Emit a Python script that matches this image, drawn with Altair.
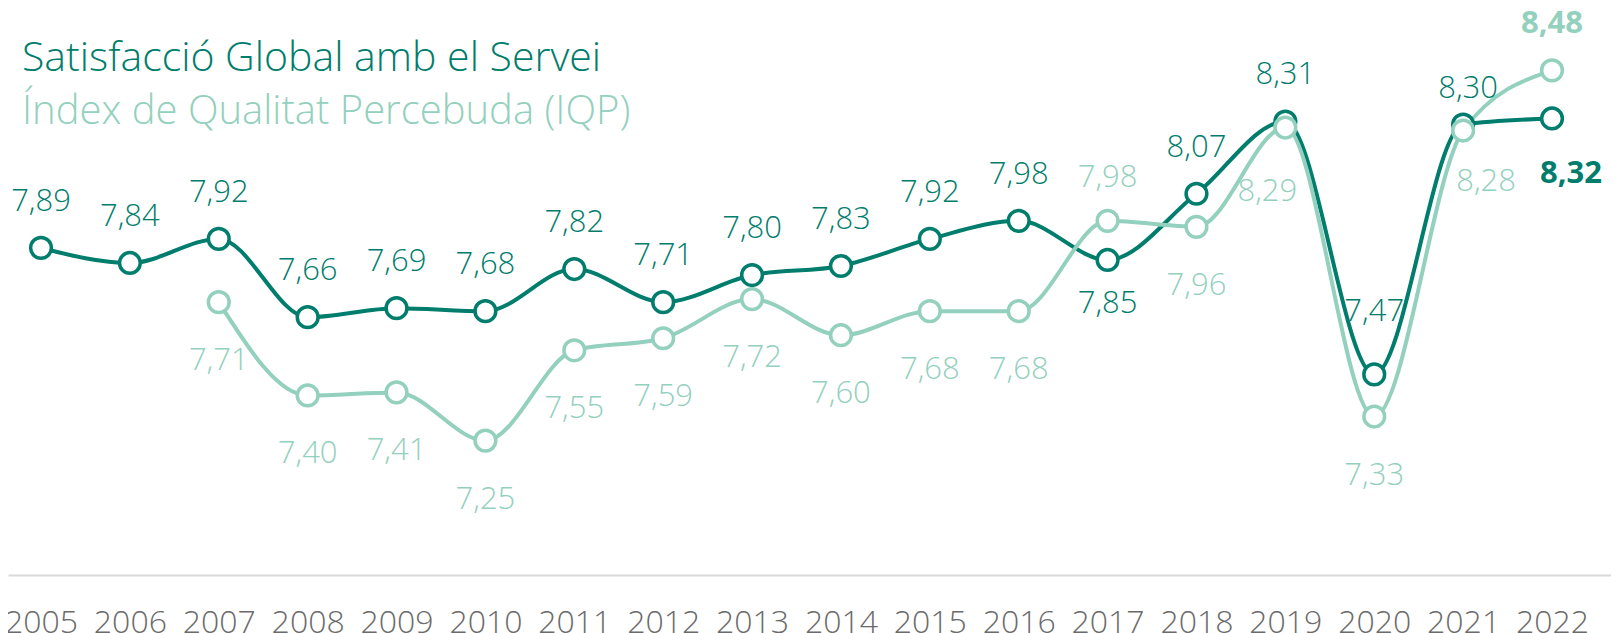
import altair as alt
import pandas as pd

# ---- data ----
years = list(range(2005, 2023))
satisfaccio = [7.89, 7.84, 7.92, 7.66, 7.69, 7.68, 7.82, 7.71, 7.80, 7.83,
               7.92, 7.98, 7.85, 8.07, 8.31, 7.47, 8.30, 8.32]
iqp = [None, None, 7.71, 7.40, 7.41, 7.25, 7.55, 7.59, 7.72, 7.60,
       7.68, 7.68, 7.98, 7.96, 8.29, 7.33, 8.28, 8.48]
series_names = ["Satisfacció Global amb el Servei", "Índex de Qualitat Percebuda (IQP)"]

# ---- styling ----
DARK = "#007D6C"
LIGHT = "#93D0BD"
FONT = "Open Sans"
# label placement (pixels, relative to point): default above / below
default_off = {series_names[0]: (0, -48), series_names[1]: (0, 57)}
special_off = {
    (series_names[0], 2017): (0, 42),
    (series_names[1], 2017): (0, -45),
    (series_names[1], 2019): (-18, 62),
    (series_names[0], 2020): (0, -64),
    (series_names[0], 2021): (5, -38),
    (series_names[1], 2021): (23, 49),
    (series_names[0], 2022): (19, 54),
    (series_names[1], 2022): (0, -48),
}
bold_points = {(series_names[0], 2022), (series_names[1], 2022)}

rows = []
for name, vals in zip(series_names, [satisfaccio, iqp]):
    for y, v in zip(years, vals):
        if v is None:
            continue
        dx, dy = special_off.get((name, y), default_off[name])
        rows.append({
            "year": y, "series": name, "value": v,
            "label": f"{v:.2f}".replace(".", ","),
            "place": f"{dx}_{dy}_{int((name, y) in bold_points)}",
        })
df = pd.DataFrame(rows)

x_enc = alt.X("year:Q",
              scale=alt.Scale(domain=[2004.6287, 2022.6638], nice=False, zero=False),
              axis=alt.Axis(values=years, format="d", title=None, grid=False, ticks=False,
                            domainColor="#d9d9d9", domainWidth=2,
                            labelFont=FONT, labelFontSize=32, labelFontWeight=300,
                            labelColor="#6b6b6b", labelPadding=32,
                            labelOverlap=False, labelFlush=False, labelBaseline="top"))
y_enc = alt.Y("value:Q", scale=alt.Scale(domain=[6.8036, 8.687], nice=False, zero=False),
              axis=None)
color_enc = alt.Color("series:N", scale=alt.Scale(domain=series_names, range=[DARK, LIGHT]),
                      legend=None)

base = alt.Chart(df).encode(x=x_enc, y=y_enc, color=color_enc)

layers = []
for name in series_names:
    sub = base.transform_filter(alt.datum.series == name)
    layers.append(sub.mark_line(interpolate="monotone", strokeWidth=4))
for name in series_names:
    sub = base.transform_filter(alt.datum.series == name)
    layers.append(sub.mark_point(shape="circle", filled=False, fill="white", fillOpacity=1,
                                 size=430, strokeWidth=3.5, opacity=1))

# text labels, one layer per placement
places = sorted(set(df["place"]))
for p in places:
    dx, dy, b = (int(s) for s in p.split("_"))
    layers.append(
        base.transform_filter(alt.datum.place == p).mark_text(
            font=FONT, fontSize=31, fontWeight=("bold" if b else 300),
            baseline="middle", align="center", dx=dx, dy=dy + 2
        ).encode(text="label:N")
    )

title_df = pd.DataFrame({"t": series_names, "order": [0, 1]})
title1 = alt.Chart(title_df).transform_filter(alt.datum.order == 0).mark_text(
    font=FONT, fontSize=41, fontWeight=300, align="left", baseline="alphabetic", color=DARK
).encode(text="t:N", x=alt.value(14), y=alt.value(63))
title2 = alt.Chart(title_df).transform_filter(alt.datum.order == 1).mark_text(
    font=FONT, fontSize=40, fontWeight=300, align="left", baseline="alphabetic", color=LIGHT
).encode(text="t:N", x=alt.value(14), y=alt.value(116))

chart = alt.layer(*layers, title1, title2).properties(
    width=1603, height=567,
    autosize=alt.AutoSizeParams(type="none"),
    padding={"left": 0, "top": 0, "right": 0, "bottom": 58},
    background="white",
).configure_view(stroke=None)

chart.save("out.html", embed_options={"renderer": "svg", "actions": False})
